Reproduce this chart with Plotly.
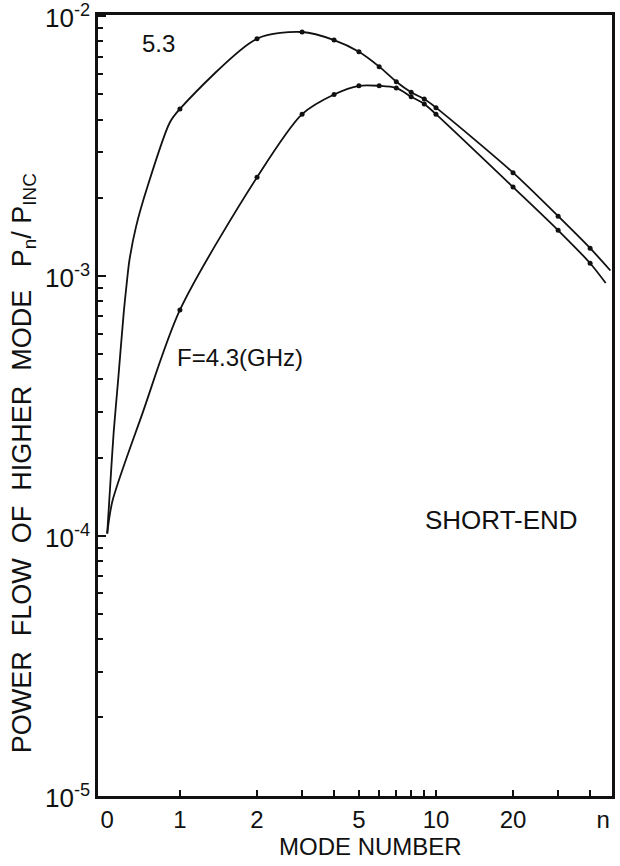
import plotly.graph_objects as go

# mode numbers that carry a dot on both curves
modes = [1, 2, 3, 4, 5, 6, 7, 8, 9, 10, 20, 30, 40]

# F = 5.3 GHz (upper curve), P_n / P_inc at the dots
p53 = [4.4e-3, 8.2e-3, 8.7e-3, 8.1e-3, 7.3e-3, 6.4e-3, 5.6e-3,
       5.1e-3, 4.8e-3, 4.45e-3, 2.5e-3, 1.7e-3, 1.28e-3]
# F = 4.3 GHz (lower curve)
p43 = [7.4e-4, 2.4e-3, 4.2e-3, 5.0e-3, 5.4e-3, 5.4e-3, 5.3e-3,
       4.9e-3, 4.6e-3, 4.2e-3, 2.2e-3, 1.5e-3, 1.12e-3]

# mode 0 value (both curves start together) and where "0" sits on the log axis
p_mode0 = 1.02e-4
X0 = 0.52

# the drawn lines between mode 0 and mode 1
rise53_x = [0.535, 0.551, 0.574, 0.603, 0.622, 0.635, 0.674, 0.746, 0.913]
rise53_y = [1.6e-4, 2.5e-4, 4.0e-4, 7.2e-4, 9.7e-4, 1.15e-3, 1.55e-3, 2.2e-3, 3.9e-3]
rise43_x = [0.545, 0.714]
rise43_y = [1.36e-4, 2.96e-4]

# where the lines run into the right frame
end53 = (48, 1.05e-3)
end43 = (46, 9.4e-4)

x_tickvals = [X0, 1, 2, 5, 10, 20, 45]
x_ticktext = ["0", "1", "2", "5", "10", "20", "n"]
x_minor = [1, 2, 3, 4, 5, 6, 7, 8, 9, 10, 20, 30, 40]

y_tickvals = [1e-5, 1e-4, 1e-3, 1e-2]
y_ticktext = ["10<sup>-5</sup>", "10<sup>-4</sup>", "10<sup>-3</sup>", "10<sup>-2</sup>"]
y_minor = [m * 10.0 ** e for e in (-5, -4, -3) for m in range(2, 10)]

INK = "#111111"
FONT = "Liberation Sans, Arial, sans-serif"

fig = go.Figure()

for rx, ry, vals, end in [(rise53_x, rise53_y, p53, end53),
                          (rise43_x, rise43_y, p43, end43)]:
    fig.add_trace(go.Scatter(
        x=[X0] + rx + modes + [end[0]],
        y=[p_mode0] + ry + vals + [end[1]],
        mode="lines",
        line=dict(color=INK, width=1.8, shape="spline", smoothing=0.8),
        hoverinfo="skip", showlegend=False,
    ))
    fig.add_trace(go.Scatter(
        x=modes, y=vals, mode="markers",
        marker=dict(color=INK, size=5),
        showlegend=False,
    ))

fig.update_xaxes(
    type="log", range=[-0.32, 1.6875], automargin=False,
    tickmode="array", tickvals=x_tickvals, ticktext=x_ticktext, ticks="",
    minor=dict(tickmode="array", tickvals=x_minor, ticks="inside",
               ticklen=6, tickwidth=1.5, tickcolor=INK, showgrid=False),
    showgrid=False, zeroline=False, ticklabeloverflow="allow",
    showline=True, mirror=True, linecolor=INK, linewidth=2.5,
    tickfont=dict(family=FONT, size=24, color=INK),
)
fig.update_yaxes(
    type="log", range=[-5.002, -1.995], automargin=False,
    tickmode="array", tickvals=y_tickvals, ticktext=y_ticktext,
    ticks="inside", ticklen=8, tickwidth=1.5, tickcolor=INK,
    minor=dict(tickmode="array", tickvals=y_minor, ticks="inside",
               ticklen=5, tickwidth=1.5, tickcolor=INK, showgrid=False),
    showgrid=False, zeroline=False,
    ticklabeloverflow="allow", ticklabelshift=2,
    showline=True, mirror=True, linecolor=INK, linewidth=2.5,
    tickfont=dict(family=FONT, size=26, color=INK),
)

txt = dict(family=FONT, size=24, color=INK)
fig.add_annotation(x=0.082, y=0.964, xref="paper", yref="paper", text="5.3",
                   showarrow=False, xanchor="left", yanchor="middle", font=txt)
fig.add_annotation(x=0.15, y=0.562, xref="paper", yref="paper", text="F=4.3(GHz)",
                   showarrow=False, xanchor="left", yanchor="middle", font=txt)
fig.add_annotation(x=0.632, y=0.353, xref="paper", yref="paper", text="SHORT-END",
                   showarrow=False, xanchor="left", yanchor="middle",
                   font=dict(family=FONT, size=26, color=INK))
fig.add_annotation(x=0.531, y=-0.065, xref="paper", yref="paper", text="MODE NUMBER",
                   showarrow=False, xanchor="center", yanchor="middle",
                   font=dict(family=FONT, size=24, color=INK))
fig.add_annotation(x=-0.144, y=0.426, xref="paper", yref="paper",
                   text="POWER  FLOW  OF  HIGHER  MODE   P<sub>n</sub>/ P<sub>INC</sub>",
                   textangle=-90, showarrow=False, xanchor="center", yanchor="middle",
                   font=dict(family=FONT, size=27, color=INK))

fig.update_layout(
    width=620, height=866,
    margin=dict(l=98, r=8, t=15, b=70),
    plot_bgcolor="white", paper_bgcolor="white",
)

# drop the default body margin so the figure fills the window exactly
fig.write_html("out.html", config={"displayModeBar": False},
               post_script="document.body.style.margin='0px';")
